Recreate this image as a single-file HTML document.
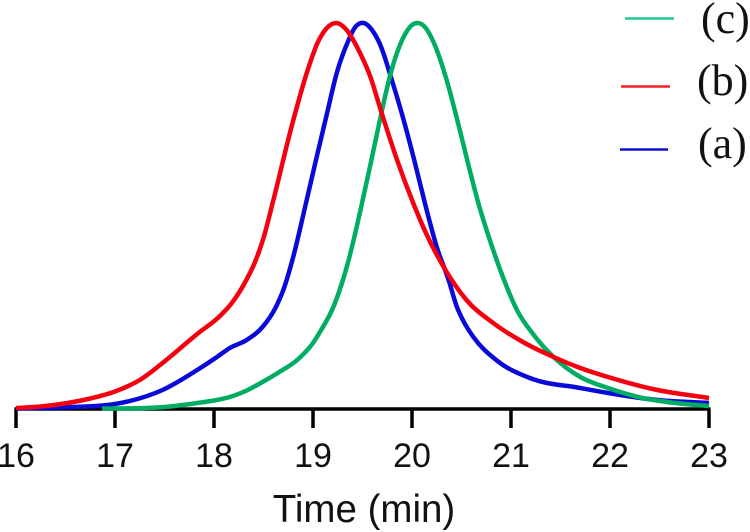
<!DOCTYPE html>
<html>
<head>
<meta charset="utf-8">
<style>
html,body{margin:0;padding:0;background:#fff;}
svg{display:block;}
text{fill:#111;}
.tick-text{font-family:"Liberation Sans",sans-serif;font-size:34px;text-anchor:middle;}
.legend-text{font-family:"Liberation Serif",serif;font-size:44px;}
</style>
</head>
<body>
<svg id="chart" width="750" height="532" viewBox="0 0 750 532" xmlns="http://www.w3.org/2000/svg">
  <g id="axis"></g>
  <g id="curves"></g>
  <text x="364" y="522" font-family="Liberation Sans, sans-serif" font-size="38.5" text-anchor="middle">Time (min)</text>
  <g>
    <line x1="625" x2="674" y1="18.5" y2="18.5" stroke="#1ecb8a" stroke-width="2.4"/>
    <text class="legend-text" x="701" y="33">(c)</text>
    <line x1="621" x2="670" y1="86.5" y2="86.5" stroke="#f5222a" stroke-width="2.4"/>
    <text class="legend-text" x="697" y="95">(b)</text>
    <line x1="620" x2="668" y1="149.5" y2="149.5" stroke="#1010d0" stroke-width="2.4"/>
    <text class="legend-text" x="698" y="158">(a)</text>
  </g>
</svg>
<script>
const tickLabels = [16, 17, 18, 19, 20, 21, 22, 23];

const redTimes = [16, 16.25, 16.52, 16.75, 17, 17.25, 17.48, 17.83, 18.06, 18.18, 18.31, 18.41, 18.5, 18.6, 18.78, 18.94, 19.05, 19.14, 19.24, 19.34, 19.46, 19.58, 19.69, 19.86, 20, 20.15, 20.32, 20.55, 20.82, 21.12, 21.43, 21.7, 21.98, 22.48, 23];
const redValues = [1, 2.5, 6, 10.5, 17.5, 29, 46, 75, 93, 106, 126, 146, 171, 209, 281, 337, 367, 381, 386, 379, 359, 332, 297, 246, 209, 174, 142, 109, 86, 67, 52, 41, 32, 19, 11];

const blueTimes = [16, 16.49, 17, 17.15, 17.48, 17.83, 18.03, 18.16, 18.33, 18.49, 18.62, 18.7, 18.8, 18.92, 19.03, 19.14, 19.24, 19.36, 19.42, 19.51, 19.61, 19.68, 19.79, 19.91, 20.03, 20.13, 20.25, 20.37, 20.45, 20.53, 20.62, 20.85, 21.19, 21.7, 21.98, 22.48, 23];
const blueValues = [0.5, 1.7, 5, 8, 19, 39, 52, 61, 69, 82, 101, 119, 152, 202, 249, 295, 336, 369, 381, 386, 377, 364, 331, 291, 246, 206, 162, 129, 103, 86, 72, 49, 31, 21, 16, 9, 6];

const greenTimes = [16.87, 17, 17.5, 17.83, 18, 18.16, 18.33, 18.49, 18.66, 18.84, 19, 19.07, 19.21, 19.36, 19.48, 19.59, 19.68, 19.78, 19.91, 20, 20.06, 20.13, 20.23, 20.35, 20.47, 20.57, 20.67, 20.81, 20.93, 21.06, 21.23, 21.43, 21.7, 21.98, 22.33, 22.66, 23];
const greenValues = [0.5, 0.5, 2, 6, 8.5, 12, 18.5, 27, 37, 49, 66, 77, 103, 149, 199, 249, 291, 334, 371, 384, 386, 382, 364, 329, 284, 244, 206, 162, 129, 99, 74, 52, 32, 21, 11, 6, 3];

const plotLeft = 16, plotRight = 709, plotBase = 409, plotTop = 24;
const xScale = function (t) { return plotLeft + (t - 16) / (23 - 16) * (plotRight - plotLeft); };
const yScale = function (v) { return plotBase - v / 385 * (plotBase - plotTop); };

function curvePath(times, values) {
  const p = times.map(function (t, i) { return [xScale(t), yScale(values[i])]; });
  const n = p.length;
  const m = [];
  for (let i = 0; i < n; i++) {
    if (i === 0) { m.push((p[1][1] - p[0][1]) / (p[1][0] - p[0][0])); continue; }
    if (i === n - 1) { m.push((p[i][1] - p[i - 1][1]) / (p[i][0] - p[i - 1][0])); continue; }
    const h0 = p[i][0] - p[i - 1][0], h1 = p[i + 1][0] - p[i][0];
    const s0 = (p[i][1] - p[i - 1][1]) / h0, s1 = (p[i + 1][1] - p[i][1]) / h1;
    m.push((s0 * h1 + s1 * h0) / (h0 + h1));
  }
  let d = 'M' + p[0][0].toFixed(2) + ' ' + p[0][1].toFixed(2);
  for (let i = 0; i < n - 1; i++) {
    const h = (p[i + 1][0] - p[i][0]) / 3;
    d += 'C' + (p[i][0] + h).toFixed(2) + ' ' + (p[i][1] + m[i] * h).toFixed(2) + ' ' +
      (p[i + 1][0] - h).toFixed(2) + ' ' + (p[i + 1][1] - m[i + 1] * h).toFixed(2) + ' ' +
      p[i + 1][0].toFixed(2) + ' ' + p[i + 1][1].toFixed(2);
  }
  return d;
}

const NS = 'http://www.w3.org/2000/svg';
const curves = document.getElementById('curves');
const axis = document.getElementById('axis');

const axisLine = document.createElementNS(NS, 'line');


axisLine.setAttribute('x1', plotLeft - 1.5);
axisLine.setAttribute('x2', plotRight + 1.5);
axisLine.setAttribute('y1', plotBase);
axisLine.setAttribute('y2', plotBase);
axisLine.setAttribute('stroke', '#000');
axisLine.setAttribute('stroke-width', '3.5');
axis.appendChild(axisLine);

tickLabels.forEach(function (t) {
  const tick = document.createElementNS(NS, 'line');
  
  
  tick.setAttribute('x1', xScale(t));
  tick.setAttribute('x2', xScale(t));
  tick.setAttribute('y1', plotBase);
  tick.setAttribute('y2', 428);
  tick.setAttribute('stroke', '#000');
  tick.setAttribute('stroke-width', '3.5');
  axis.appendChild(tick);
  const label = document.createElementNS(NS, 'text');
  
  
  label.setAttribute('class', 'tick-text');
  label.setAttribute('x', xScale(t));
  label.setAttribute('y', 467);
  label.textContent = String(t);
  axis.appendChild(label);
});

function addCurve(name, times, values, color) {
  const path = document.createElementNS(NS, 'path');
  
  
  path.setAttribute('d', curvePath(times, values));
  path.setAttribute('fill', 'none');
  path.setAttribute('stroke', color);
  path.setAttribute('stroke-width', '4.5');
  path.setAttribute('stroke-linejoin', 'round');
  curves.appendChild(path);
}
addCurve('curve-a', blueTimes, blueValues, '#0a0ad8');
addCurve('curve-c', greenTimes, greenValues, '#00ad62');
addCurve('curve-b', redTimes, redValues, '#f5000f');
</script>
</body>
</html>
